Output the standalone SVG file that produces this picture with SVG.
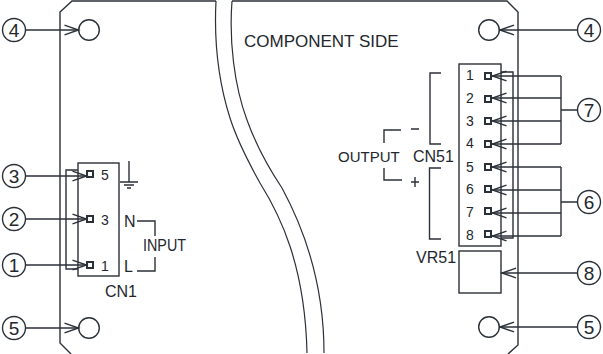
<svg xmlns="http://www.w3.org/2000/svg" width="603" height="354" viewBox="0 0 603 354">
<style>
.l{fill:none;stroke:#2b3138;stroke-width:1.4}
.w{fill:none;stroke:#2b3138;stroke-width:1.2}
.p{fill:#fff;stroke:#2b3138;stroke-width:2}
.c{fill:#fff;stroke:#2b3138;stroke-width:1.4}
.t{font-family:"Liberation Sans",Arial,sans-serif;fill:#23272d}
.s{font-size:14px;text-anchor:middle}
.m{font-size:16px}
.n{font-size:19px;text-anchor:middle}
</style>
<defs>
<marker id="a" markerUnits="userSpaceOnUse" markerWidth="18" markerHeight="12" refX="15.5" refY="6" orient="auto"><path d="M1 1.2L15 6L1 10.8" fill="none" stroke="#2b3138" stroke-width="1.4"/></marker>
</defs>
<g id="board">
<path class="w" d="M216 1C214 40 218 80 230 118C238 143 250 165 260 183C280 215 305 265 307 353"/>
<path class="w" d="M232 1C229 40 234 85 247 120C256 145 270 170 282 188C302 225 324 280 324 353"/>
<path class="l" d="M71 354L60 343V12L72 1H216M232 1H507L518 12V345L508 354"/>
<text class="t" x="244" y="47" font-size="17">COMPONENT SIDE</text>
</g>
<g id="hole-tl"><circle class="c" cx="89" cy="30" r="10.3"/></g>
<g id="hole-bl"><circle class="c" cx="89" cy="328" r="10.3"/></g>
<g id="hole-tr"><circle class="c" cx="489" cy="30" r="10.3"/></g>
<g id="hole-br"><circle class="c" cx="489" cy="327" r="10.3"/></g>
<g id="cn1">
<rect class="l" x="78" y="163" width="41" height="113"/>
<path class="l" d="M78 170H66V269H78"/>
<rect class="p" x="87" y="171" width="6" height="6"/>
<rect class="p" x="87" y="216" width="6" height="6"/>
<rect class="p" x="87" y="262" width="6" height="6"/>
<text class="t s" x="105" y="180">5</text>
<text class="t s" x="105" y="225">3</text>
<text class="t s" x="105" y="271">1</text>
<text class="t m" x="105" y="297">CN1</text>
<path class="l" d="M129 161V182M120 182H138M124 185H134M127 188H131"/>
<text class="t m" x="124" y="227">N</text>
<text class="t m" x="124" y="272">L</text>
<text class="t m" x="143" y="251" textLength="43" lengthAdjust="spacingAndGlyphs">INPUT</text>
<path class="l" d="M137 221H155V236M155 257V271H137"/>
</g>
<g id="cn51">
<rect class="l" x="459" y="64" width="42" height="182"/>
<path class="l" d="M501 72H513V238H501"/>
<text class="t s" x="470" y="80">1</text>
<text class="t s" x="470" y="103">2</text>
<text class="t s" x="470" y="126">3</text>
<text class="t s" x="470" y="148">4</text>
<text class="t s" x="470" y="172">5</text>
<text class="t s" x="470" y="194">6</text>
<text class="t s" x="470" y="217">7</text>
<text class="t s" x="470" y="240">8</text>
<rect class="p" x="485" y="73" width="6" height="6"/>
<rect class="p" x="485" y="96" width="6" height="6"/>
<rect class="p" x="485" y="118" width="6" height="6"/>
<rect class="p" x="485" y="141" width="6" height="6"/>
<rect class="p" x="485" y="164" width="6" height="6"/>
<rect class="p" x="485" y="186" width="6" height="6"/>
<rect class="p" x="485" y="208" width="6" height="6"/>
<rect class="p" x="485" y="231" width="6" height="6"/>
<text class="t m" x="413" y="162" font-size="16.5">CN51</text>
<text class="t" x="338" y="162" font-size="15">OUTPUT</text>
<path class="l" d="M441 73H430V144H441M441 168H429.500V239H441"/>
<path class="l" d="M401 130H384V143M384 168V180H402"/>
<path class="l" d="M411 129H419M411 182H419M415 177V187"/>
</g>
<g id="vr51">
<rect class="l" x="459" y="251" width="42" height="42"/>
<text class="t m" x="416" y="263">VR51</text>
</g>
<g id="connectors">
<path class="l" d="M26 30H79" marker-end="url(#a)"/>
<path class="l" d="M26 328H79" marker-end="url(#a)"/>
<path class="l" d="M26 176H87" marker-end="url(#a)"/>
<path class="l" d="M26 219H87" marker-end="url(#a)"/>
<path class="l" d="M26 265H87" marker-end="url(#a)"/>
<path class="l" d="M577 30H499.500" marker-end="url(#a)"/>
<path class="l" d="M577 327H499.500" marker-end="url(#a)"/>
<path class="l" d="M577 273H501.500" marker-end="url(#a)"/>
<path class="l" d="M561 76H492" marker-end="url(#a)"/>
<path class="l" d="M561 98H492" marker-end="url(#a)"/>
<path class="l" d="M561 121H492" marker-end="url(#a)"/>
<path class="l" d="M561 144H492" marker-end="url(#a)"/>
<path class="l" d="M561 167H492" marker-end="url(#a)"/>
<path class="l" d="M561 190H492" marker-end="url(#a)"/>
<path class="l" d="M561 213H492" marker-end="url(#a)"/>
<path class="l" d="M561 236H492" marker-end="url(#a)"/>
<path class="l" d="M561 76V144M561 110H578M561 167V236M561 202H578"/>
</g>
<g id="callout-4l"><circle class="c" cx="14" cy="30" r="11.500"/><text class="t n" x="14" y="36.500">4</text></g>
<g id="callout-3"><circle class="c" cx="14" cy="176" r="11.500"/><text class="t n" x="14" y="182.500">3</text></g>
<g id="callout-2"><circle class="c" cx="14" cy="219" r="11.500"/><text class="t n" x="14" y="225.500">2</text></g>
<g id="callout-1"><circle class="c" cx="14" cy="265" r="11.500"/><text class="t n" x="14" y="271.500">1</text></g>
<g id="callout-5l"><circle class="c" cx="14" cy="328" r="11.500"/><text class="t n" x="14" y="334.500">5</text></g>
<g id="callout-4r"><circle class="c" cx="589" cy="30" r="11.500"/><text class="t n" x="589" y="36.500">4</text></g>
<g id="callout-7"><circle class="c" cx="589" cy="110" r="11.500"/><text class="t n" x="589" y="116.500">7</text></g>
<g id="callout-6"><circle class="c" cx="589" cy="202" r="11.500"/><text class="t n" x="589" y="208.500">6</text></g>
<g id="callout-8"><circle class="c" cx="589" cy="273" r="11.500"/><text class="t n" x="589" y="279.500">8</text></g>
<g id="callout-5r"><circle class="c" cx="589" cy="327" r="11.500"/><text class="t n" x="589" y="333.500">5</text></g>
</svg>
